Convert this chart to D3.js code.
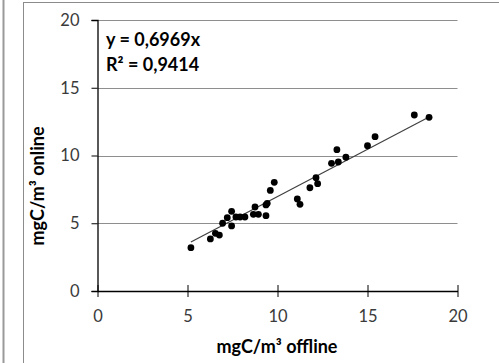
<!DOCTYPE html>
<html>
<head>
<meta charset="utf-8">
<script src="https://cdn.jsdelivr.net/npm/d3@7"></script>
<style>
  body { margin: 0; background: #fff; }
  svg { display: block; font-family: Lato, "Open Sans", sans-serif; }
</style>
</head>
<body>
<svg id="chart" width="499" height="363"></svg>
<script>
// offline vs online readings (mgC/m3)
const offline = [5.19, 6.27, 6.55, 6.77, 6.95, 7.21, 7.45, 7.45, 7.69, 7.92, 8.19, 8.66, 8.75, 8.94,
  9.36, 9.43, 9.36, 9.6, 9.82, 11.1, 11.25, 11.8, 12.14, 12.23, 13.0, 13.3, 13.38, 13.8, 15.0, 15.42, 17.6, 18.42];
const online = [3.2, 3.84, 4.26, 4.13, 5.0, 5.41, 5.88, 4.8, 5.46, 5.46, 5.46, 5.66, 6.2, 5.66,
  6.35, 6.47, 5.56, 7.42, 8.02, 6.79, 6.4, 7.62, 8.36, 7.92, 9.42, 10.43, 9.52, 9.87, 10.72, 11.39, 12.99, 12.82];
const slope = 0.6969;
const trendRange = [5.19, 18.42];
const xTicks = [0, 5, 10, 15, 20];
const yTicks = [0, 5, 10, 15, 20];
const eqLines = ["y = 0,6969x", "R² = 0,9414"];

const svg = d3.select("#chart");

// outer borders (left panel edge + chart frame)
svg.append("line").attr("x1", 3.5).attr("x2", 3.5).attr("y1", 0).attr("y2", 363)
  .attr("stroke", "#9a9a9a").attr("stroke-width", 2);
svg.append("rect").attr("x", 23.5).attr("y", 2.5).attr("width", 500).attr("height", 400)
  .attr("fill", "none").attr("stroke", "#8c8c8c").attr("stroke-width", 1);

const x = d3.scaleLinear().domain([0, 20]).range([97.5, 457.5]);
const y = d3.scaleLinear().domain([0, 20]).range([291, 20]);

// gridlines
svg.append("g").selectAll("line")
  .data(yTicks.filter(d => d > 0))
  .enter().append("line")
  .attr("x1", x(0)).attr("x2", x(20))
  .attr("y1", d => Math.round(y(d)) + 0.5).attr("y2", d => Math.round(y(d)) + 0.5)
  .attr("stroke", "#8e8e8e").attr("stroke-width", 1);

// y axis
const yAxis = svg.append("g")
  .attr("transform", "translate(" + x(0) + ",0)")
  .call(d3.axisLeft(y).tickValues(yTicks).tickSize(6).tickPadding(12));
yAxis.select(".domain").attr("stroke", "#000").attr("stroke-width", 1.3);
yAxis.selectAll(".tick line").attr("stroke", "#000");
yAxis.selectAll("text").attr("font-size", 16.5).attr("fill", "#3a3a3a")
  .attr("font-family", "Lato, sans-serif");

// x axis, ticks crossing the line
const xAxis = svg.append("g")
  .attr("transform", "translate(0," + y(0) + ")")
  .call(d3.axisBottom(x).tickValues(xTicks).tickSize(6).tickSizeOuter(0).tickPadding(13));
xAxis.select(".domain").attr("stroke", "#000").attr("stroke-width", 1.6);
xAxis.selectAll(".tick line").attr("stroke", "#000").attr("y1", -6);
xAxis.selectAll("text").attr("font-size", 16.5).attr("fill", "#3a3a3a")
  .attr("font-family", "Lato, sans-serif");

// trend line
svg.append("line")
  .attr("x1", x(trendRange[0])).attr("y1", y(trendRange[0] * slope))
  .attr("x2", x(trendRange[1])).attr("y2", y(trendRange[1] * slope))
  .attr("stroke", "#404040").attr("stroke-width", 1.2);

// points
svg.append("g").selectAll("circle")
  .data(offline)
  .enter().append("circle")
  .attr("cx", d => x(d))
  .attr("cy", (d, i) => y(online[i]))
  .attr("r", 3.4)
  .attr("fill", "#000");

// equation
svg.append("g").selectAll("text")
  .data(eqLines)
  .enter().append("text")
  .attr("x", 106)
  .attr("y", (d, i) => 46 + i * 25)
  .attr("font-size", 18).attr("font-weight", "bold")
  .text(d => d);

// axis titles
svg.append("text")
  .attr("x", 277).attr("y", 353)
  .attr("text-anchor", "middle")
  .attr("font-size", 18).attr("font-weight", "bold")
  .text("mgC/m³ offline");

svg.append("text")
  .attr("transform", "translate(44,186) rotate(-90)")
  .attr("text-anchor", "middle")
  .attr("font-size", 18).attr("font-weight", "bold")
  .text("mgC/m³ online");
</script>
</body>
</html>
